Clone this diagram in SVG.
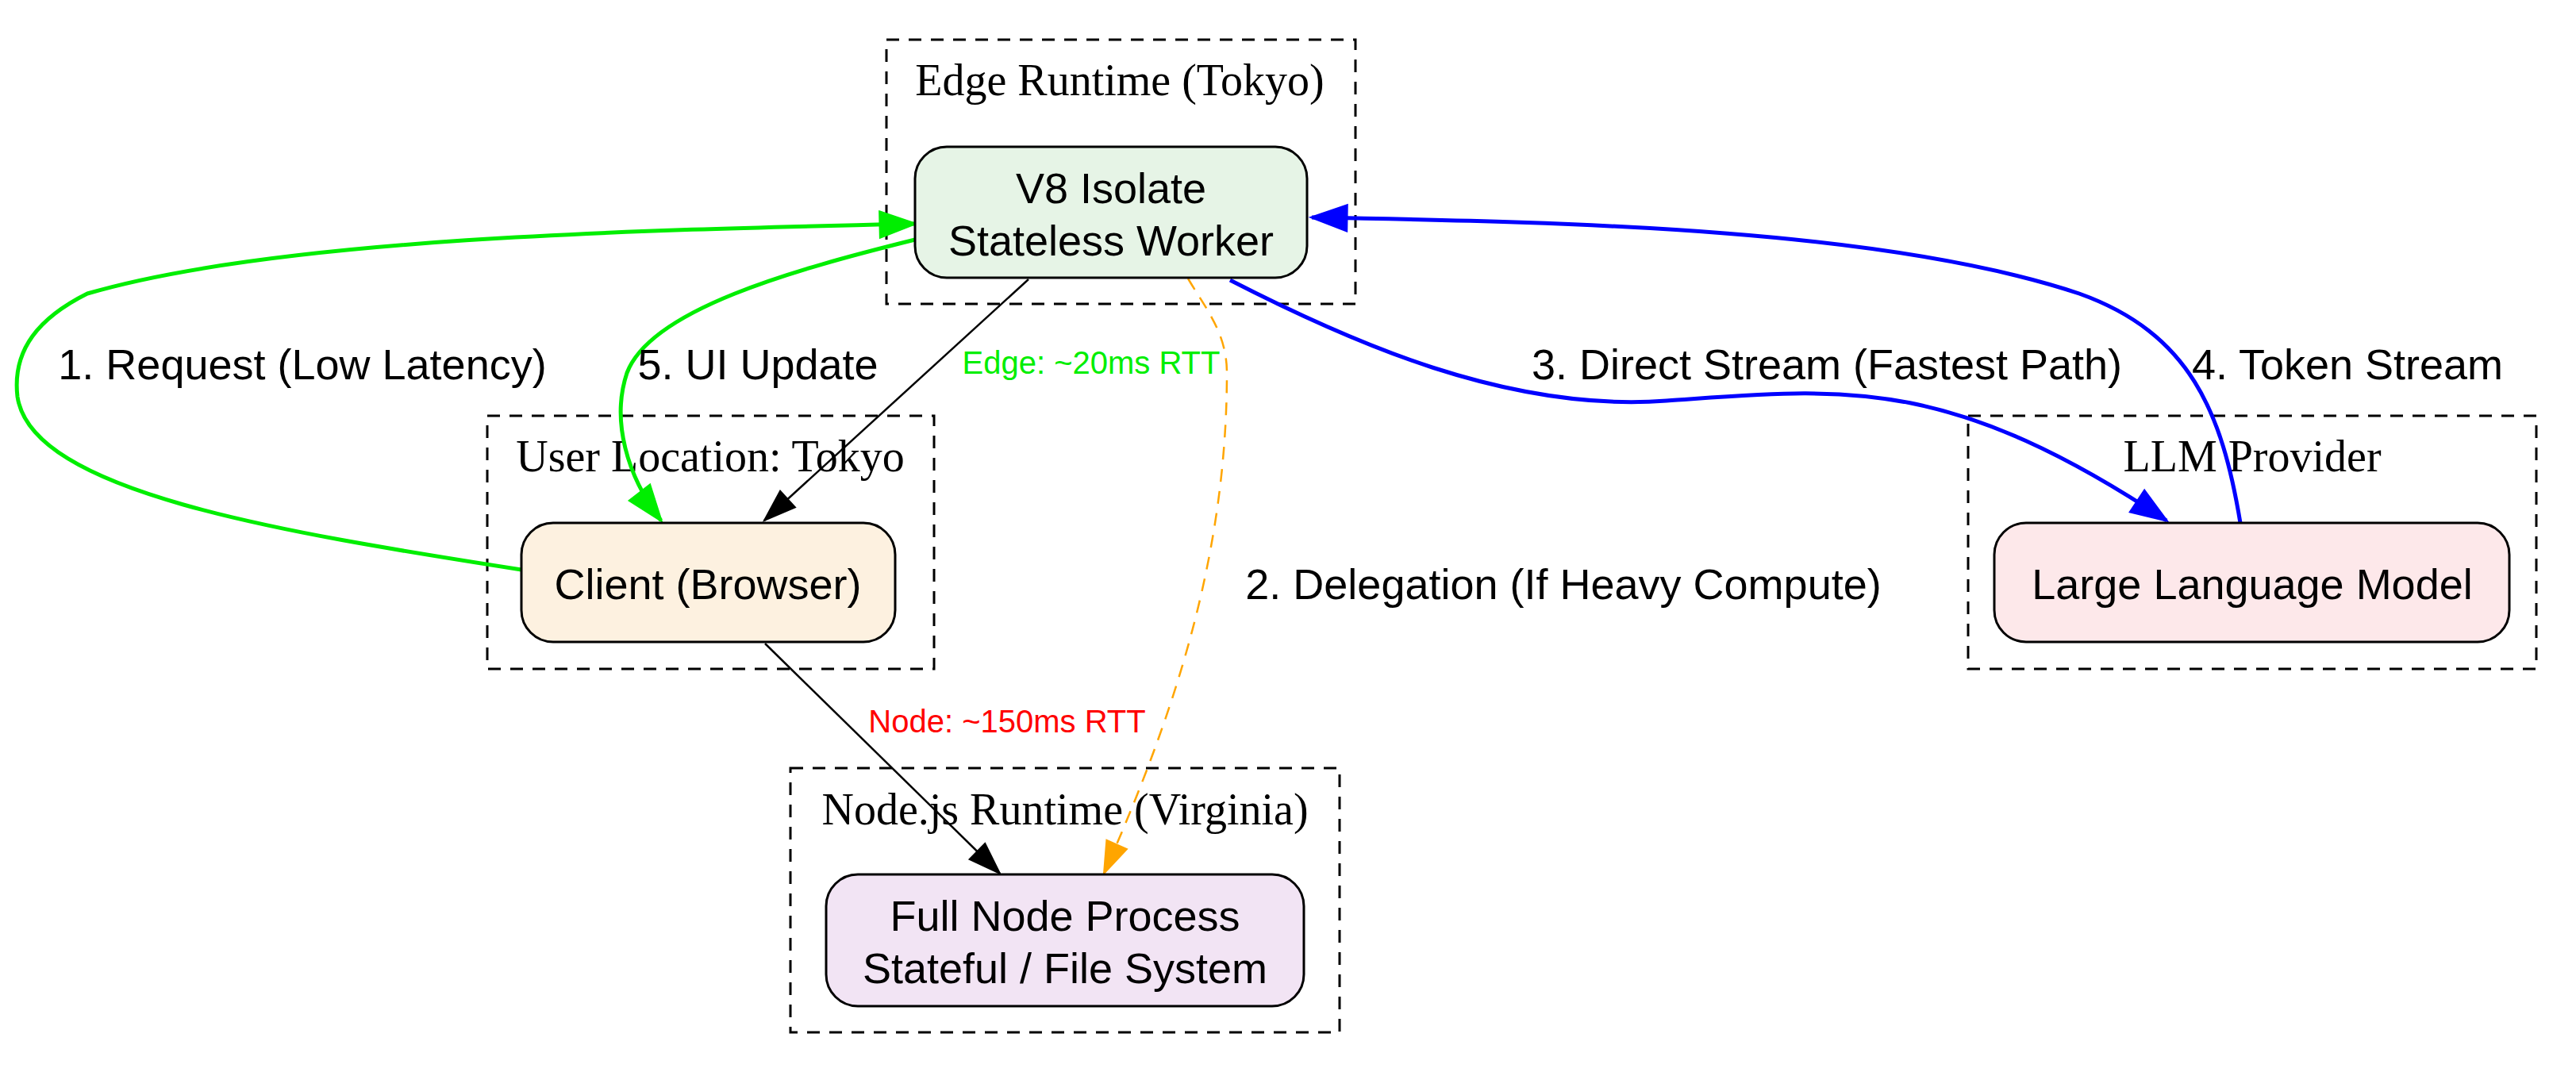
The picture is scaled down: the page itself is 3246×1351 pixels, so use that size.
<svg xmlns="http://www.w3.org/2000/svg" width="3246" height="1351" viewBox="0 0 3246 1351">
<style>
.cl{fill:none;stroke:#000;stroke-width:3;stroke-dasharray:16,12}
.ct{font-family:"Liberation Serif",serif;font-size:56px;text-anchor:middle;fill:#000}
.nd{stroke:#000;stroke-width:3}
.nt{font-family:"Liberation Sans",Arial,sans-serif;font-size:54px;text-anchor:middle;fill:#000}
.el{font-family:"Liberation Sans",Arial,sans-serif;font-size:54px;text-anchor:middle;fill:#000}
.sl{font-family:"Liberation Sans",Arial,sans-serif;font-size:40px;text-anchor:middle}
</style>
<defs>
<marker id="ag" markerUnits="userSpaceOnUse" markerWidth="50" markerHeight="40" viewBox="0 0 50 40" refX="46" refY="20" orient="auto"><path d="M2,4L46,20L2,36Z" fill="#00ee00" stroke="#00ee00" stroke-width="3"/></marker>
<marker id="ab" markerUnits="userSpaceOnUse" markerWidth="50" markerHeight="40" viewBox="0 0 50 40" refX="46" refY="20" orient="auto"><path d="M2,4L46,20L2,36Z" fill="#0000ff" stroke="#0000ff" stroke-width="3"/></marker>
<marker id="ak" markerUnits="userSpaceOnUse" markerWidth="46" markerHeight="36" viewBox="0 0 46 36" refX="42" refY="18" orient="auto"><path d="M2,4L42,18L2,32Z" fill="#000" stroke="#000" stroke-width="2"/></marker>
<marker id="ao" markerUnits="userSpaceOnUse" markerWidth="46" markerHeight="36" viewBox="0 0 46 36" refX="42" refY="18" orient="auto"><path d="M2,4L42,18L2,32Z" fill="#ffa500" stroke="#ffa500" stroke-width="2"/></marker>
</defs>
<rect width="3246" height="1351" fill="#fff"/>
<g id="cluster-edge"><rect class="cl" x="1117" y="50" width="591" height="333"/><text class="ct" x="1411" y="120">Edge Runtime (Tokyo)</text></g>
<g id="cluster-user"><rect class="cl" x="614" y="524" width="563" height="319"/><text class="ct" x="895" y="594">User Location: Tokyo</text></g>
<g id="cluster-node"><rect class="cl" x="996" y="968" width="692" height="333"/><text class="ct" x="1342" y="1039">Node.js Runtime (Virginia)</text></g>
<g id="cluster-llm"><rect class="cl" x="2480" y="524" width="716" height="319"/><text class="ct" x="2838" y="594">LLM Provider</text></g>
<g id="connectors">
<g fill="none">
<path d="M657,718 C350,670 40,620 22,500 C15,440 50,400 110,370 C350,300 800,290 1153,282" stroke="#00ee00" stroke-width="5" marker-end="url(#ag)"/>
<path d="M1153,302 C1000,340 820,390 790,470 C770,530 790,600 833,656" stroke="#00ee00" stroke-width="5" marker-end="url(#ag)"/>
<path d="M1296,352 L963,656" stroke="#000" stroke-width="2.5" marker-end="url(#ak)"/>
<path d="M1497,351 C1520,390 1546,420 1546,470 C1546,700 1480,900 1391,1101" stroke="#ffa500" stroke-width="2.5" stroke-dasharray="16,12" marker-end="url(#ao)"/>
<path d="M1550,353 C1700,430 1900,520 2100,505 C2320,490 2450,470 2730,656" stroke="#0000ff" stroke-width="5" marker-end="url(#ab)"/>
<path d="M2823,659 C2800,520 2760,420 2620,370 C2380,290 2000,280 1653,274" stroke="#0000ff" stroke-width="5" marker-end="url(#ab)"/>
<path d="M964,811 L1260,1101" stroke="#000" stroke-width="2.5" marker-end="url(#ak)"/>
</g>
<text class="el" x="381" y="478">1. Request (Low Latency)</text>
<text class="el" x="955" y="478">5. UI Update</text>
<text class="sl" x="1375" y="471" fill="#00ee00">Edge: ~20ms RTT</text>
<text class="el" x="2302" y="478">3. Direct Stream (Fastest Path)</text>
<text class="el" x="2958" y="478">4. Token Stream</text>
<text class="el" x="1970" y="755">2. Delegation (If Heavy Compute)</text>
<text class="sl" x="1269" y="923" fill="#ff0000">Node: ~150ms RTT</text>
</g>
<g id="v8"><rect class="nd" x="1153" y="185" width="494" height="165" rx="40" fill="#e6f4e6"/><text class="nt" x="1400" y="256">V8 Isolate</text><text class="nt" x="1400" y="322">Stateless Worker</text></g>
<g id="client"><rect class="nd" x="657" y="659" width="471" height="150" rx="40" fill="#fdf1e0"/><text class="nt" x="892" y="755">Client (Browser)</text></g>
<g id="llm"><rect class="nd" x="2513" y="659" width="649" height="150" rx="40" fill="#fde8ea"/><text class="nt" x="2838" y="755">Large Language Model</text></g>
<g id="full"><rect class="nd" x="1041" y="1102" width="602" height="166" rx="40" fill="#f2e4f4"/><text class="nt" x="1342" y="1173">Full Node Process</text><text class="nt" x="1342" y="1239">Stateful / File System</text></g>
</svg>
